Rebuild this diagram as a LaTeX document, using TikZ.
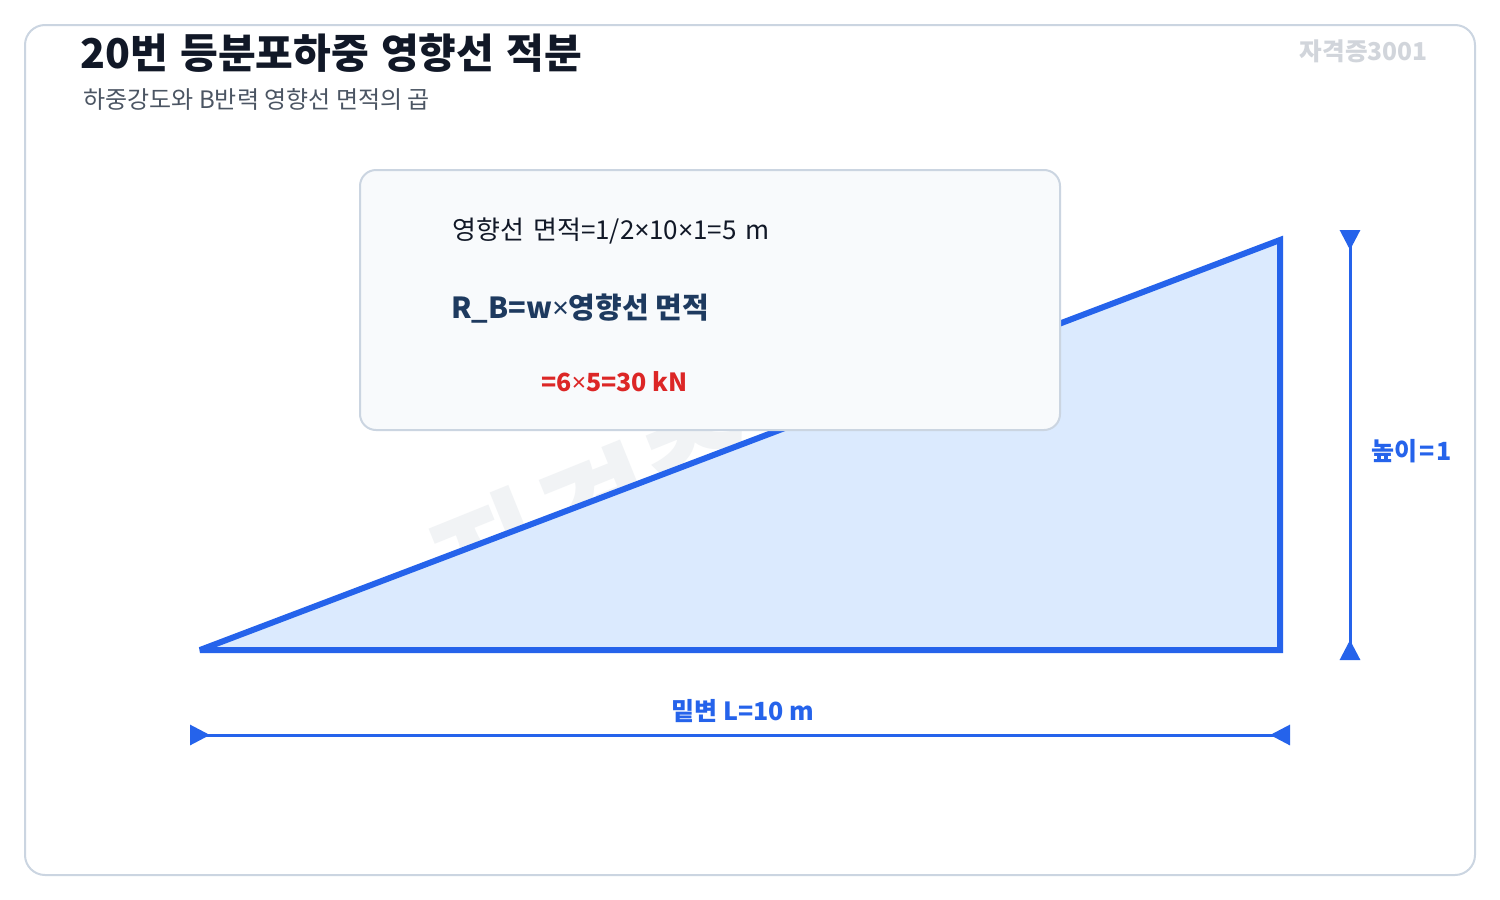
\documentclass[tikz,border=0pt]{standalone}
\usepackage{fontspec}
\setmainfont{Noto Sans CJK KR}
\newfontfamily\mulfont{Noto Sans}
\newcommand{\mul}{{\mulfont ×}}
\usetikzlibrary{arrows.meta}
\definecolor{frameline}{HTML}{CBD5E1}
\definecolor{titleink}{HTML}{111827}
\definecolor{subink}{HTML}{4B5563}
\definecolor{markgray}{HTML}{D1D5DB}
\definecolor{wmgray}{HTML}{F1F3F5}
\definecolor{beamblue}{HTML}{2563EB}
\definecolor{areafill}{HTML}{DBEAFE}
\definecolor{boxfill}{HTML}{F8FAFC}
\definecolor{formulaink}{HTML}{1E3A5F}
\definecolor{resultred}{HTML}{DC2626}
\begin{document}
\begin{tikzpicture}[x=0.5pt,y=-0.5pt,
  dimline/.style={draw=beamblue, line width=1.5pt,
    {Triangle[reversed,length=10pt,width=10pt]}-{Triangle[reversed,length=10pt,width=10pt]}},
  dimlabel/.style={text=beamblue, font=\bfseries\fontsize{12.5pt}{14pt}\selectfont},
  boxtext/.style={anchor=west, inner sep=0pt}]
\useasboundingbox (0,0) rectangle (1500,900);
\draw [draw=frameline, line width=1pt, fill=white, rounded corners=10pt] (25,25) rectangle (1475,875);
\node [anchor=west, inner sep=0pt, text=titleink, font=\bfseries\fontsize{20.5pt}{24pt}\selectfont] (title) at (80,53) {20번\hspace{0.3em}등분포하중\hspace{0.3em}영향선\hspace{0.3em}적분};
\node [anchor=west, inner sep=0pt, text=subink, font=\fontsize{12pt}{14pt}\selectfont] (subtitle) at (83,99) {하중강도와 B반력 영향선 면적의 곱};
\node [anchor=east, inner sep=0pt, text=markgray, font=\bfseries\fontsize{12.3pt}{14pt}\selectfont] (stamp) at (1428,51) {자격증3001};
\node [rotate=22, inner sep=0pt, text=wmgray, font=\bfseries\fontsize{62pt}{64pt}\selectfont] (watermark) at (740,455) {자격증3001};
% influence line area
\coordinate (a) at (200,650);
\coordinate (b) at (1280,240);
\coordinate (c) at (1280,650);
\draw [draw=beamblue, fill=areafill, line width=3pt, miter limit=4] (a) -- (b) -- (c) -- cycle;
% dimensions
\coordinate (htop) at (1350,230);
\coordinate (hbot) at (1350,660);
\draw [dimline] (htop) -- (hbot);
\node [dimlabel, anchor=west, inner sep=0pt] (height) at (1371,451) {높이\hspace{0.08em}=\hspace{0.08em}1};
\coordinate (lleft) at (190,735);
\coordinate (lright) at (1290,735);
\draw [dimline] (lleft) -- (lright);
\node [dimlabel, inner sep=0pt] (base) at (743,711) {밑변 L=10 m};
% formula box
\draw [draw=frameline, line width=1pt, fill=boxfill, rounded corners=8pt] (360,170) rectangle (1060,430);
\node [boxtext, text=titleink, font=\fontsize{13pt}{15pt}\selectfont] (area) at (452,231) {영향선\hspace{0.35em}면적=1/2\mul{}10\mul{}1=5\hspace{0.35em}m};
\node [boxtext, text=formulaink, font=\bfseries\fontsize{14.5pt}{16pt}\selectfont] (rb) at (451,309) {R\_B=w\mul{}영향선 면적};
\node [boxtext, text=resultred, font=\bfseries\fontsize{12.5pt}{14pt}\selectfont] (result) at (541,382) {=6\mul{}5=30 kN};
\end{tikzpicture}
\end{document}
